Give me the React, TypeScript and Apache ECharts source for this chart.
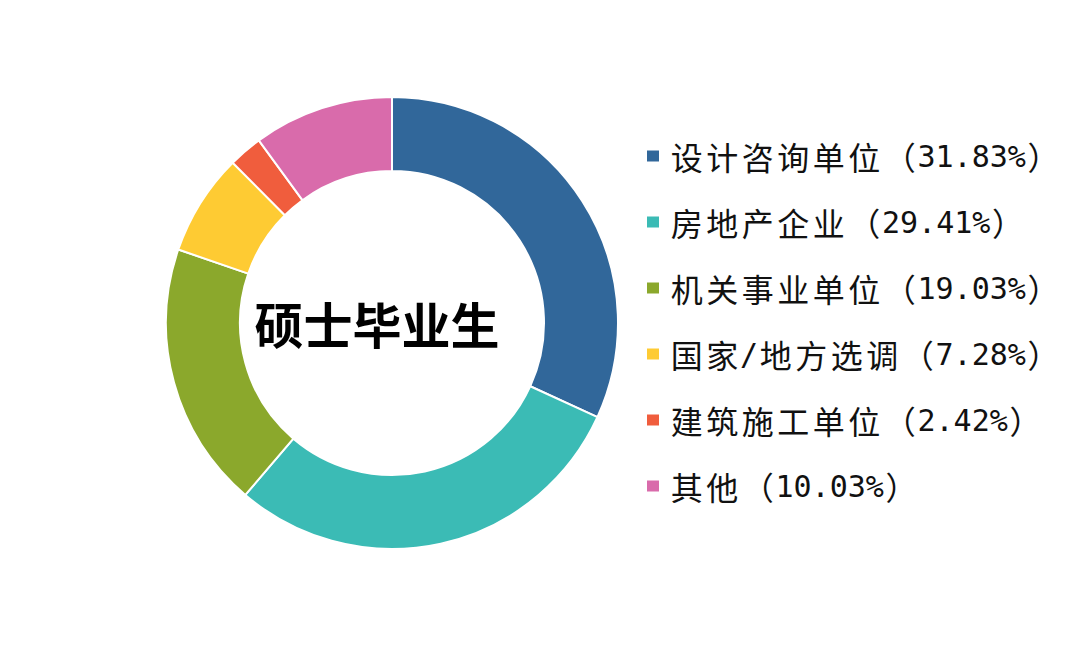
import React, { useEffect, useRef } from "react";
import * as echarts from "echarts";

const categories = ["设计咨询单位", "房地产企业", "机关事业单位", "国家/地方选调", "建筑施工单位", "其他"];
const values = [31.83, 29.41, 19.03, 7.28, 2.42, 10.03];
const colors = ["#31679A", "#3BBBB5", "#8BA82C", "#FECB33", "#F05D3D", "#D96BAB"];
const centerTitle = "硕士毕业生";

function toRich(s: string): string {
  // each wide char is its own token (spaced); ASCII runs use a monospace font
  const out: string[] = [];
  let ascii = "";
  for (const ch of s) {
    if (ch.charCodeAt(0) < 128) {
      ascii += ch;
    } else {
      if (ascii) {
        out.push(`{n|${ascii}}`);
        ascii = "";
      }
      out.push(`{c|${ch}}`);
    }
  }
  if (ascii) out.push(`{n|${ascii}}`);
  return out.join("");
}

export default function App() {
  const ref = useRef<HTMLDivElement>(null);
  useEffect(() => {
    if (!ref.current) return;
    const chart = echarts.init(ref.current, null, { renderer: "svg" });
    const data = categories.map((name, i) => ({ name, value: values[i] }));
    chart.setOption({
      animation: false,
      backgroundColor: "#ffffff",
      color: colors,
      graphic: [
        {
          type: "text",
          x: 377,
          y: 322,
          style: {
            text: centerTitle,
            align: "center",
            verticalAlign: "middle",
            fontFamily: "Noto Sans CJK SC",
            fontSize: 49,
            fontWeight: "bold",
            fill: "#000000",
          },
        },
      ],
      legend: {
        orient: "vertical",
        left: 645,
        top: 139,
        padding: 0,
        itemWidth: 14,
        itemHeight: 13,
        itemGap: 32,
        icon: "rect",
        selectedMode: false,
        formatter: (name: string) => {
          const i = categories.indexOf(name);
          return toRich(`${name}（${values[i].toFixed(2)}%）`);
        },
        textStyle: {
          fontSize: 32,
          lineHeight: 34,
          color: "#111111",
          padding: [0, 0, 0, 4],
          rich: {
            c: {
              fontFamily: "Noto Sans CJK SC",
              fontSize: 32,
              lineHeight: 34,
              color: "#111111",
              padding: [0, 1.75, 0, 1.75],
            },
            n: {
              fontFamily: "DejaVu Sans Mono",
              fontSize: 30,
              lineHeight: 34,
              color: "#111111",
            },
          },
        },
      },
      series: [
        {
          type: "pie",
          center: [392, 323],
          radius: [152, 226],
          startAngle: 90,
          clockwise: true,
          label: { show: false },
          labelLine: { show: false },
          emphasis: { disabled: true },
          itemStyle: { borderColor: "#ffffff", borderWidth: 2 },
          data,
        },
      ],
    });
    return () => chart.dispose();
  }, []);
  return (
    <div
      ref={ref}
      style={{ position: "fixed", left: 0, top: 0, width: 1080, height: 646 }}
    />
  );
}
